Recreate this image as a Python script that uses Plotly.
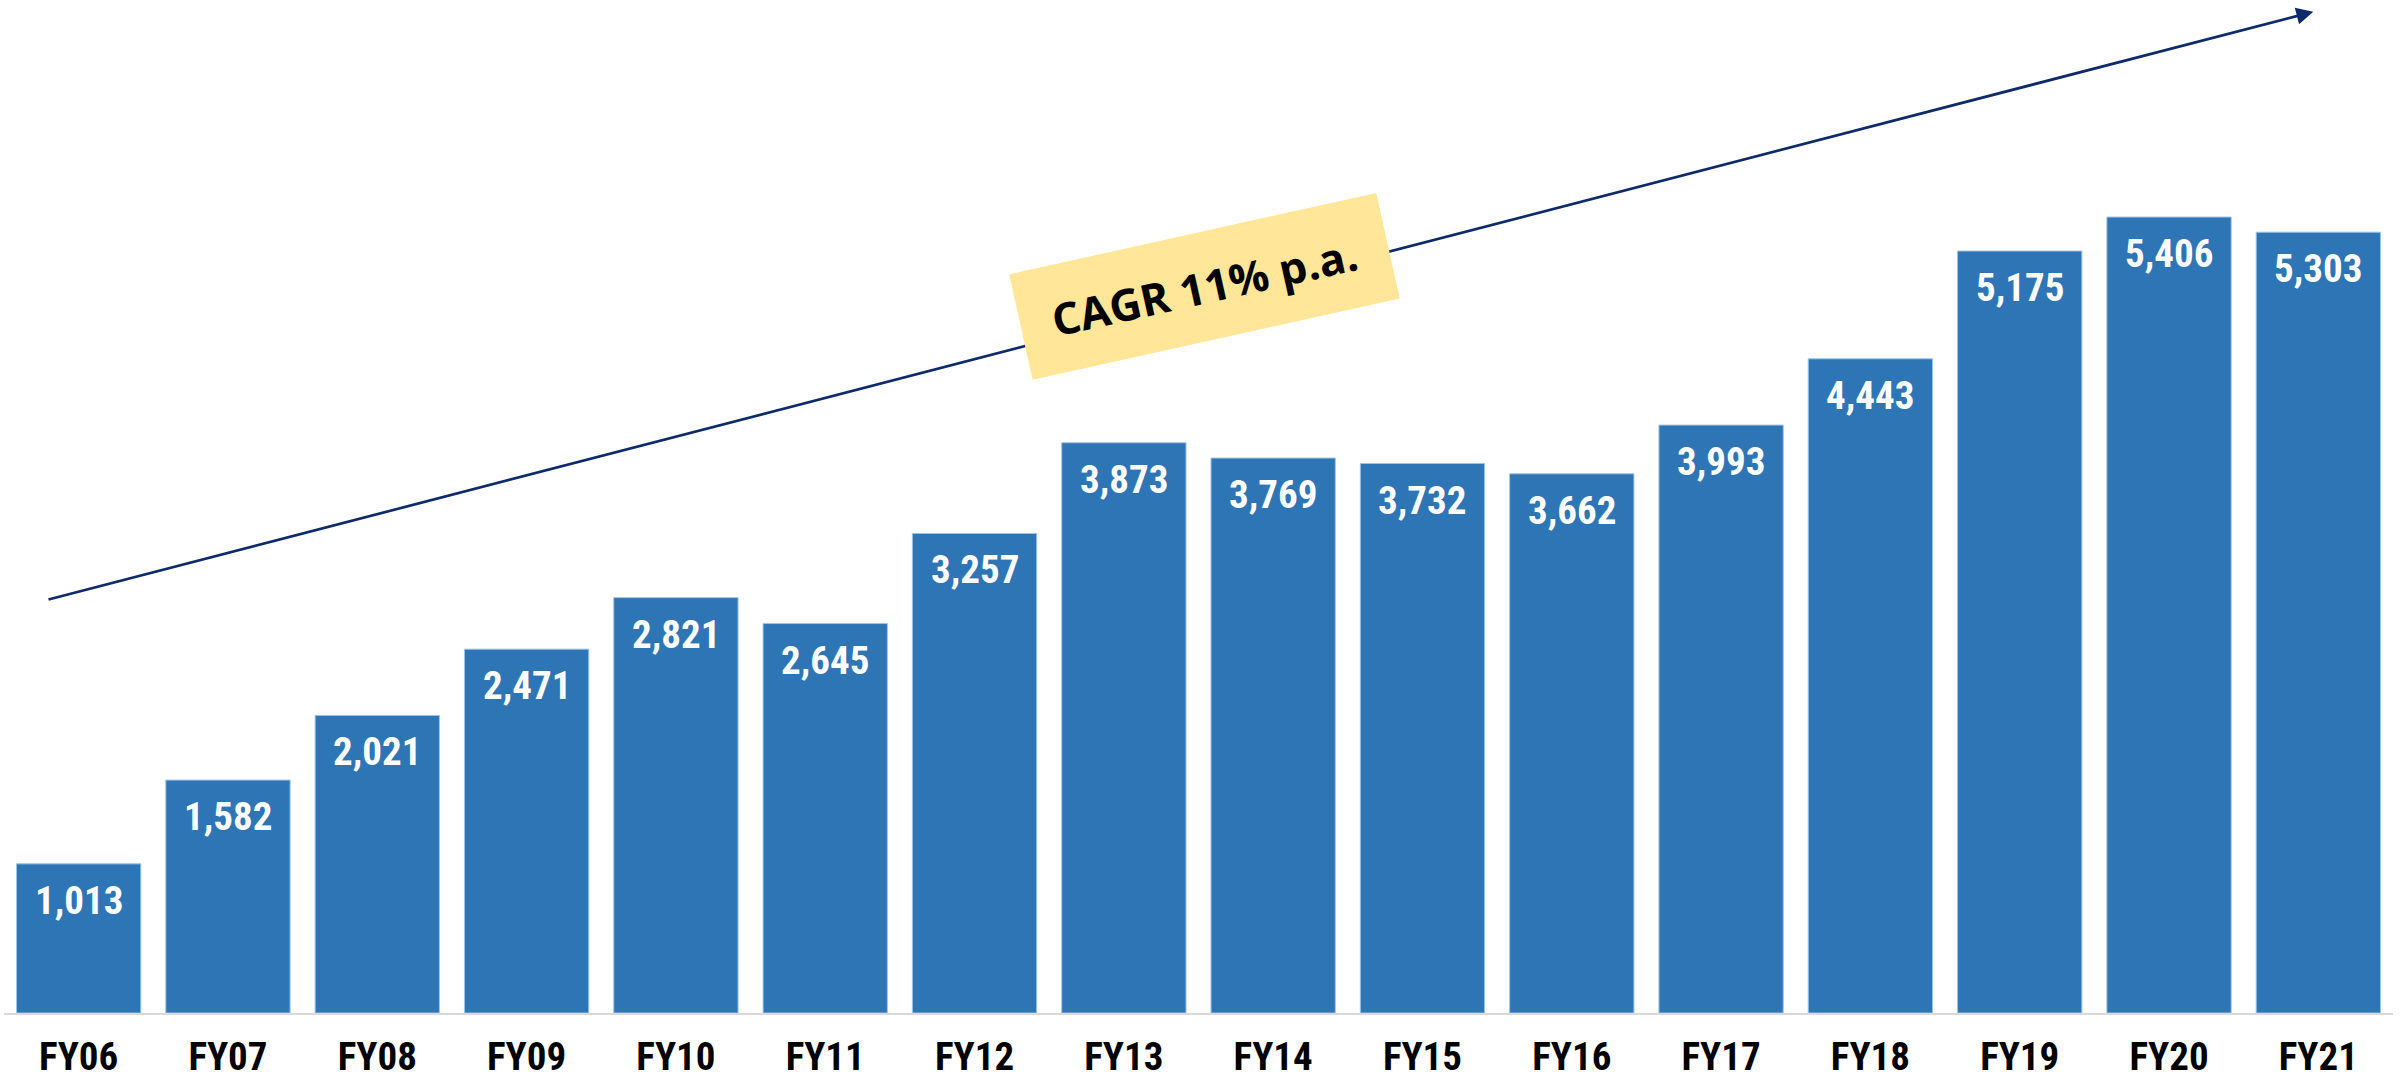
import plotly.graph_objects as go

categories = ["FY06", "FY07", "FY08", "FY09", "FY10", "FY11", "FY12", "FY13",
              "FY14", "FY15", "FY16", "FY17", "FY18", "FY19", "FY20", "FY21"]
values = [1013, 1582, 2021, 2471, 2821, 2645, 3257, 3873,
          3769, 3732, 3662, 3993, 4443, 5175, 5406, 5303]
cagr_label = "CAGR 11% p.a."

BAR_COLOR = "#2E75B6"
NARROW = "Liberation Sans Narrow, Arial Narrow, Roboto Condensed, DejaVu Sans Condensed, sans-serif"

fig = go.Figure()
fig.add_trace(go.Bar(
    x=categories, y=values,
    marker=dict(color=BAR_COLOR, line=dict(color="#9DC3E6", width=1)),
    hoverinfo="skip",
))

# value labels inside top of bars
for c, v in zip(categories, values):
    fig.add_annotation(
        x=c, y=v, text=f"{v:,}", showarrow=False,
        yanchor="top", xanchor="center", yshift=-12,
        font=dict(family=NARROW, size=39, color="white", weight="bold"),
    )

# trend arrow
fig.add_annotation(
    x=14.966, y=6800, ax=-0.212, ay=2806, axref="x", ayref="y",
    xref="x", yref="y", text="", showarrow=True,
    arrowhead=2, arrowsize=1.25, arrowwidth=2.7, arrowcolor="#0E2A6B",
    standoff=0,
)

# CAGR box
fig.add_annotation(
    x=7.537, y=4932, xref="x", yref="y", text=f"<b>{cagr_label}</b>",
    showarrow=False, textangle=-12.5, bgcolor="#FFE699",
    width=375, height=107, borderpad=0, align="center", valign="middle",
    font=dict(family="Open Sans, sans-serif", size=44, color="black"),
)

fig.update_layout(
    width=2402, height=1081,
    margin=dict(l=4, r=9, t=0, b=68),
    plot_bgcolor="white", paper_bgcolor="white",
    bargap=0.1675, showlegend=False,
    xaxis=dict(
        type="category", showline=True, linecolor="#D9D9D9", linewidth=2,
        showgrid=False, ticks="", ticklabelstandoff=8, automargin=False,
        tickfont=dict(family=NARROW, size=39, color="black", weight="bold"),
    ),
    yaxis=dict(range=[0, 6880], visible=False, showgrid=False, automargin=False),
)

fig.write_html("out.html")
